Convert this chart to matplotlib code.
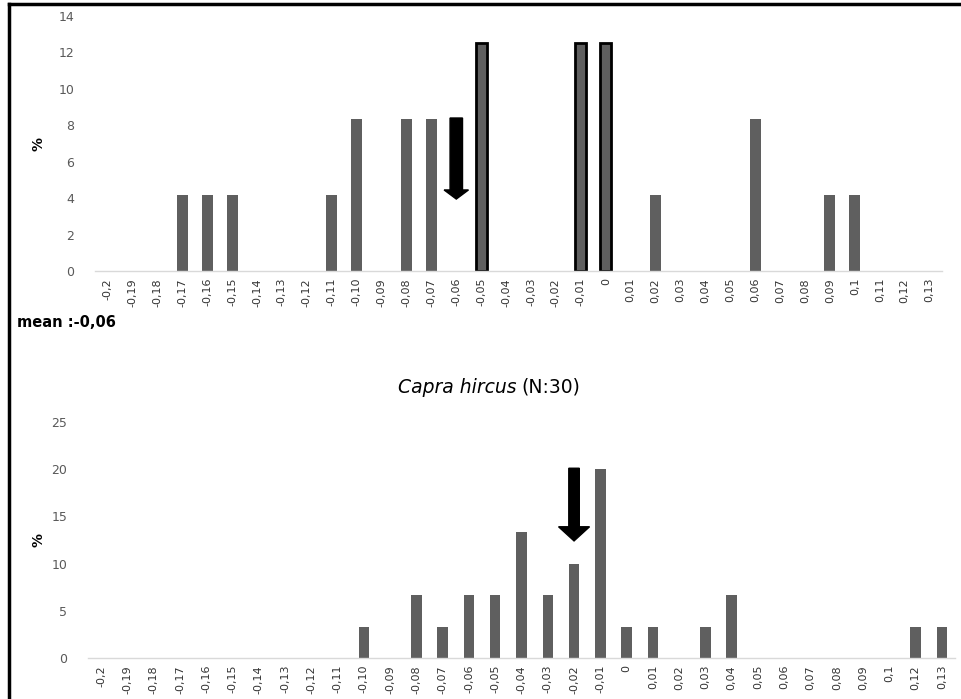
"""
Distribuição (%) dos valores - dois histogramas por categoria.
"""
import matplotlib.pyplot as plt
from matplotlib.lines import Line2D

# --- dados ---
cat_top = ['-0,2', '-0,19', '-0,18', '-0,17', '-0,16', '-0,15', '-0,14', '-0,13',
           '-0,12', '-0,11', '-0,10', '-0,09', '-0,08', '-0,07', '-0,06', '-0,05',
           '-0,04', '-0,03', '-0,02', '-0,01', '0', '0,01', '0,02', '0,03', '0,04',
           '0,05', '0,06', '0,07', '0,08', '0,09', '0,1', '0,11', '0,12', '0,13']
val_top = [0, 0, 0, 4.17, 4.17, 4.17, 0, 0,
           0, 4.17, 8.33, 0, 8.33, 8.33, 0, 12.5,
           0, 0, 0, 12.5, 12.5, 0, 4.17, 0, 0,
           0, 8.33, 0, 0, 4.17, 4.17, 0, 0, 0]
destaque_top = ['-0,05', '-0,01', '0']   # barras com contorno preto
seta_top = ('-0,06', 8.4, 3.95)           # categoria, topo, ponta

cat_bot = ['-0,2', '-0,19', '-0,18', '-0,17', '-0,16', '-0,15', '-0,14', '-0,13',
           '-0,12', '-0,11', '-0,10', '-0,09', '-0,08', '-0,07', '-0,06', '-0,05',
           '-0,04', '-0,03', '-0,02', '-0,01', '0', '0,01', '0,02', '0,03', '0,04',
           '0,05', '0,06', '0,07', '0,08', '0,09', '0,1', '0,12', '0,13']
val_bot = [0, 0, 0, 0, 0, 0, 0, 0,
           0, 0, 3.33, 0, 6.67, 3.33, 6.67, 6.67,
           13.33, 6.67, 10, 20, 3.33, 3.33, 0, 3.33, 6.67,
           0, 0, 0, 0, 0, 0, 3.33, 3.33]
seta_bot = ('-0,02', 20.1, 12.4)

BAR = '#5f5f5f'
EIXO = '#d9d9d9'
CINZA = '#595959'
FONTE = ['DejaVu Sans']


def desenhar(ax, cats, vals, ymax, ystep, largura, seta, seta_dim, destaque=()):
    x = list(range(len(cats)))
    bars = ax.bar(x, vals, width=largura, color=BAR, zorder=2)
    for b, c in zip(bars, cats):
        if c in destaque:
            b.set_edgecolor('black')
            b.set_linewidth(2)
    ax.set_xlim(-0.5, len(cats) - 0.5)
    ax.set_ylim(0, ymax)
    ax.set_yticks(range(0, ymax + 1, ystep))
    ax.set_xticks(x)
    ax.set_xticklabels(cats, rotation=90, family=FONTE, fontsize=8,
                       color='#333333')
    for lab in ax.get_yticklabels():
        lab.set_family(FONTE)
        lab.set_fontsize(9)
        lab.set_color(CINZA)
    ax.tick_params(axis='both', length=0)
    ax.tick_params(axis='y', pad=15)
    ax.tick_params(axis='x', pad=5)
    for s in ['top', 'right', 'left']:
        ax.spines[s].set_visible(False)
    ax.spines['bottom'].set_color(EIXO)
    ax.spines['bottom'].set_linewidth(1)

    # seta indicando a média
    c, topo, ponta = seta
    xi = cats.index(c)
    w, hw, hl = seta_dim
    ax.arrow(xi, topo, 0, ponta - topo, width=w, head_width=hw,
             head_length=hl, length_includes_head=True,
             color='black', zorder=3)


fig = plt.figure(figsize=(9.62, 6.99), dpi=100)

ax1 = fig.add_axes([0.0988, 0.6123, 0.8805, 0.3648])
desenhar(ax1, cat_top, val_top, 14, 2, 0.44, seta_top, (0.5, 0.98, 0.5),
         destaque_top)
ax1.set_ylabel('%', fontsize=10, fontweight='bold', labelpad=9)

ax2 = fig.add_axes([0.0915, 0.0587, 0.9012, 0.3376])
desenhar(ax2, cat_bot, val_bot, 25, 5, 0.4, seta_bot, (0.4, 1.18, 1.5))
ax2.set_ylabel('%', fontsize=10, fontweight='bold', labelpad=4)

# textos
fig.text(0.018, 0.538, 'mean :-0,06', fontsize=10.5, fontweight='bold',
         family=FONTE, ha='left', va='center')
fig.text(0.5365, 0.446, 'Capra hircus', fontsize=13.5, style='italic',
         family=FONTE, ha='right', va='center')
fig.text(0.5415, 0.446, '(N:30)', fontsize=13.5,
         family=FONTE, ha='left', va='center')

# moldura (topo e lado esquerdo)
fig.add_artist(Line2D([0.0098, 1.0], [0.9945, 0.9945], color='black', lw=2.5))
fig.add_artist(Line2D([0.0098, 0.0098], [0.0, 0.9945], color='black', lw=2.5))

plt.savefig('out.png', dpi=100)
plt.close()
